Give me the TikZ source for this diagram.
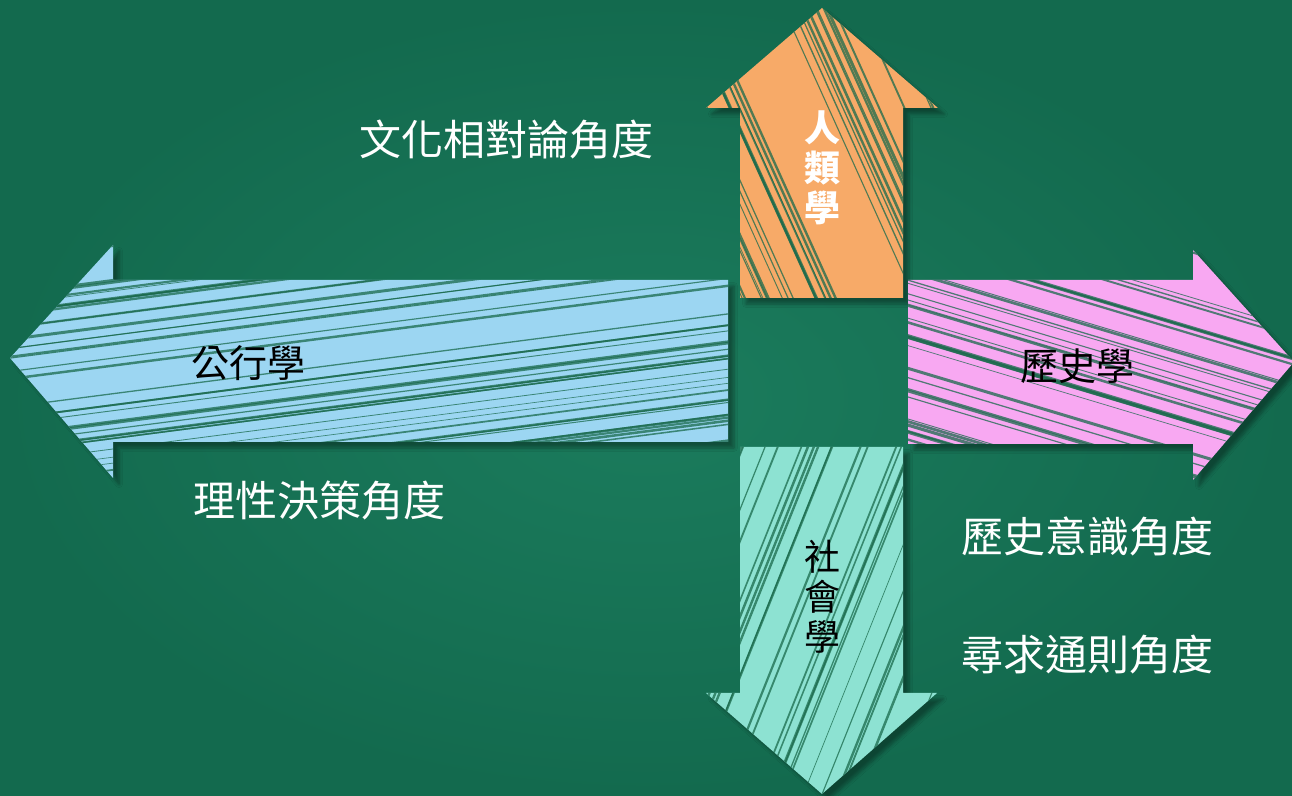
\documentclass[tikz,border=0pt]{standalone}
\usepackage{fontspec}
\newfontfamily\cjk{Noto Sans CJK TC}
\usetikzlibrary{shadows.blur}
\definecolor{bgmid}{HTML}{1B7C5D}
\definecolor{bgout}{HTML}{136A4E}
\definecolor{arrOrange}{HTML}{F7AA68}
\definecolor{arrBlue}{HTML}{9CD6F2}
\definecolor{arrPink}{HTML}{F8A8F2}
\definecolor{arrTeal}{HTML}{8DE2D2}
\definecolor{hatchcol}{HTML}{1A6A4C}
\tikzset{
  arrowshape/.style={blur shadow={shadow xshift=3pt,shadow yshift=-3pt,shadow blur steps=6,shadow opacity=35}},
  hatch/.style={draw=hatchcol,opacity=0.75},
  anglelabel/.style={text=white,font=\cjk\fontsize{21}{25}\selectfont,inner sep=0pt},
  fieldlabel/.style={text=black,font=\cjk\fontsize{19}{22}\selectfont,inner sep=0pt},
  vlabel/.style={font=\cjk\fontsize{18}{20}\selectfont,align=center,inner sep=0pt}
}
\begin{document}
\begin{tikzpicture}[x=0.5pt,y=-0.5pt]
\useasboundingbox (0,0) rectangle (1292,796);
\shade[inner color=bgmid,outer color=bgout] (0,0) rectangle (1292,796);
\pgfmathsetseed{11}
% up arrow (orange)
\fill[arrOrange,arrowshape] (740,298) -- (740,108) -- (706,108) -- (822,8) -- (938,108) -- (903,108) -- (903,298) -- cycle;
\begin{scope}
\clip (740,298) -- (740,108) -- (706,108) -- (822,8) -- (938,108) -- (903,108) -- (903,298) -- cycle;
\foreach \i in {1,...,34}{
  \pgfmathsetmacro{\xx}{560+rnd*400}
  \pgfmathsetmacro{\ww}{0.3+rnd*1.3}
  \draw[hatch,line width=\ww pt] (\xx,0) -- (\xx+140,310);
}
\end{scope}
% left arrow (blue)
\fill[arrBlue,arrowshape] (728,280) -- (113,280) -- (113,245) -- (10,358) -- (113,478) -- (113,442) -- (728,442) -- cycle;
\begin{scope}
\clip (728,280) -- (113,280) -- (113,245) -- (10,358) -- (113,478) -- (113,442) -- (728,442) -- cycle;
\foreach \i in {1,...,55}{
  \pgfmathsetmacro{\yy}{245+rnd*340}
  \pgfmathsetmacro{\ww}{0.3+rnd*1.2}
  \draw[hatch,line width=\ww pt] (0,\yy) -- (740,\yy-96);
}
\end{scope}
% right arrow (pink)
\fill[arrPink,arrowshape] (908,280) -- (1193,280) -- (1193,250) -- (1294,362) -- (1193,480) -- (1193,444) -- (908,444) -- cycle;
\begin{scope}
\clip (908,280) -- (1193,280) -- (1193,250) -- (1294,362) -- (1193,480) -- (1193,444) -- (908,444) -- cycle;
\foreach \i in {1,...,40}{
  \pgfmathsetmacro{\yy}{130+rnd*360}
  \pgfmathsetmacro{\ww}{0.3+rnd*1.3}
  \draw[hatch,line width=\ww pt] (900,\yy) -- (1300,\yy+120);
}
\end{scope}
% down arrow (teal)
\fill[arrTeal,arrowshape] (740,447) -- (903,447) -- (903,693) -- (937,693) -- (822,794) -- (706,693) -- (740,693) -- cycle;
\begin{scope}
\clip (740,447) -- (903,447) -- (903,693) -- (937,693) -- (822,794) -- (706,693) -- (740,693) -- cycle;
\foreach \i in {1,...,38}{
  \pgfmathsetmacro{\xx}{700+rnd*400}
  \pgfmathsetmacro{\ww}{0.3+rnd*1.2}
  \draw[hatch,line width=\ww pt] (\xx,440) -- (\xx-144,800);
}
\end{scope}
% labels
\node[anglelabel] (culture) at (506,140) {文化相對論角度};
\node[anglelabel] (rational) at (319,500) {理性決策角度};
\node[anglelabel] (histcon) at (1087,536) {歷史意識角度};
\node[anglelabel] (general) at (1087,655) {尋求通則角度};
\node[fieldlabel] (pubadmin) at (248,363) {公行學};
\node[fieldlabel] (history) at (1077,366) {歷史學};
\node[vlabel,text=white] (anthro) at (822,168) {\bfseries 人\\\bfseries 類\\\bfseries 學};
\node[vlabel,text=black] (socio) at (822,597) {社\\會\\學};
\end{tikzpicture}
\end{document}
